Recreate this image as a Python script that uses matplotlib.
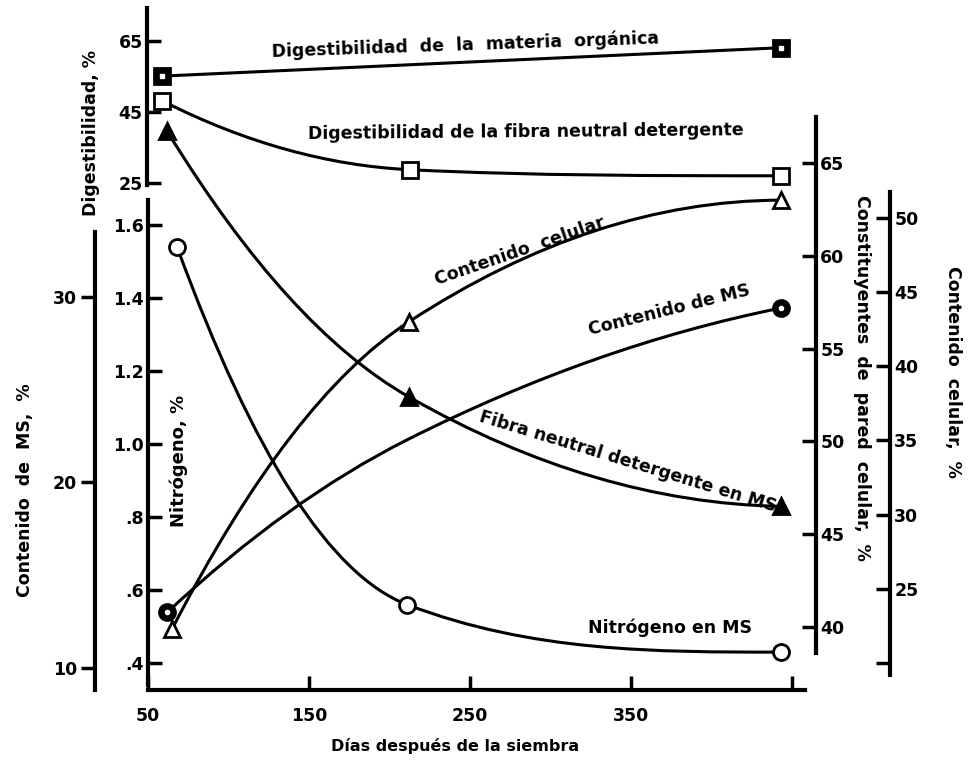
import numpy as np
import matplotlib
matplotlib.use('Agg')
import matplotlib.pyplot as plt
from matplotlib.path import Path
from matplotlib.patches import PathPatch

plt.rcParams['font.family'] = ['DejaVu Sans']
plt.rcParams['font.weight'] = 'bold'

# valores
dias_mo = [59, 443]
dig_mo = [55.1, 63.1]            # digestibilidad materia organica, %
dias_fnd = [59, 213, 443]
dig_fnd = [48.1, 28.7, 27.0]     # digestibilidad FND, %
dias_nit = [68, 211, 443]
nitrogeno = [1.54, 0.56, 0.43]   # nitrogeno en MS, %
dias_ms = [62, 211, 443]
cont_ms = [13.0, 22.3, 29.4]     # contenido de MS, %
dias_fibra = [62, 212, 443]
fibra_ms = [66.7, 52.4, 46.5]    # FND en MS, % (pared celular)
dias_cel = [65, 212, 443]
cont_cel = [22.3, 43.0, 51.2]    # contenido celular, %

x_ticks = [50, 150, 250, 350, 450]
x_labels = ['50', '150', '250', '350', '']

W, H = 970, 763
LW = 2.2


def box(top, bottom, left=148, right=805):
    return [left / W, 1 - bottom / H, (right - left) / W, (bottom - top) / H]


def curva(ax, x, y):
    # curva suave (bezier cubica) que pasa por los puntos
    x = np.asarray(x, float)
    y = np.asarray(y, float)
    h = np.diff(x)
    d = np.diff(y) / h
    n = len(x)
    m = np.empty(n)
    if n == 2:
        m[:] = d[0]
    else:
        for k in range(1, n - 1):
            if d[k - 1] * d[k] > 0:
                g = np.sqrt(d[k - 1] * d[k])
                lim = 3 * min(abs(d[k - 1]), abs(d[k]))
                m[k] = np.sign(d[k]) * min(g, lim)
            else:
                m[k] = 0.0
        # extremos: tramo parabolico
        m[0] = 2 * d[0] - m[1]
        m[-1] = 2 * d[-1] - m[-2]
        if m[-1] * d[-1] < 0:
            m[-1] = 0.0
        if m[0] * d[0] < 0:
            m[0] = 0.0
    verts = [(x[0], y[0])]
    codes = [Path.MOVETO]
    for k in range(n - 1):
        c = h[k] / 3
        verts += [(x[k] + c, y[k] + c * m[k]),
                  (x[k + 1] - c, y[k + 1] - c * m[k + 1]),
                  (x[k + 1], y[k + 1])]
        codes += [Path.CURVE4] * 3
    ax.add_patch(PathPatch(Path(verts, codes), fill=False, lw=LW,
                           color='black', capstyle='round', zorder=2))


fig = plt.figure(figsize=(9.7, 7.63), dpi=100)

# eje x
ax_x = fig.add_axes(box(8, 690))
ax_x.set_xlim(50, 458)
for s in ['left', 'right', 'top']:
    ax_x.spines[s].set_visible(False)
ax_x.spines['bottom'].set_linewidth(3)
ax_x.set_yticks([])
ax_x.set_xticks(x_ticks, x_labels)
ax_x.tick_params(axis='x', direction='in', length=10, width=2.5,
                 labelsize=12.5, pad=12)


def make_axis(top, bottom, ylim, side, offset, ticks, labels, direction):
    ax = fig.add_axes(box(top, bottom))
    ax.patch.set_visible(False)
    ax.set_xlim(50, 458)
    ax.set_ylim(*ylim)
    for s in ax.spines.values():
        s.set_visible(False)
    sp = ax.spines[side]
    sp.set_visible(True)
    sp.set_linewidth(3)
    sp.set_position(('outward', offset * 0.72))
    ax.set_xticks([])
    ax.yaxis.set_ticks_position(side)
    ax.set_yticks(ticks, labels)
    ax.tick_params(axis='y', direction=direction, length=10, width=2.5,
                   labelsize=12.5, pad=3)
    return ax


ax_dig = make_axis(8, 185, (24.4, 74.3), 'left', 1, [25, 45, 65],
                   ['25', '45', '65'], 'in')
ax_nit = make_axis(200, 685, (0.34, 1.668), 'left', 0,
                   [0.4, 0.6, 0.8, 1.0, 1.2, 1.4, 1.6],
                   ['.4', '.6', '.8', '1.0', '1.2', '1.4', '1.6'], 'in')
ax_ms = make_axis(232, 690, (8.81, 33.5), 'left', 53, [10, 20, 30],
                  ['10', '20', '30'], 'out')
ax_par = make_axis(117, 653, (38.6, 67.48), 'right', 11,
                   [40, 45, 50, 55, 60, 65],
                   ['40', '45', '50', '55', '60', '65'], 'in')
ax_cel = make_axis(192, 675, (19.19, 51.75), 'right', 85,
                   [20, 25, 30, 35, 40, 45, 50],
                   ['', '25', '30', '35', '40', '45', '50'], 'in')

mk = dict(markersize=11.5, markeredgewidth=2, color='black',
          linestyle='none', clip_on=False, zorder=3)

# digestibilidad materia organica
curva(ax_dig, dias_mo, dig_mo)
ax_dig.plot(dias_mo, dig_mo, marker='s', **mk)
ax_dig.plot(dias_mo, dig_mo, marker='s', markersize=3, color='white',
            linestyle='none', clip_on=False, zorder=4)

# digestibilidad FND
curva(ax_dig, dias_fnd, dig_fnd)
ax_dig.plot(dias_fnd, dig_fnd, marker='s', markerfacecolor='white', **mk)

# nitrogeno
curva(ax_nit, dias_nit, nitrogeno)
ax_nit.plot(dias_nit, nitrogeno, marker='o', markerfacecolor='white', **mk)

# contenido de MS (marcas solo en extremos)
curva(ax_ms, dias_ms, cont_ms)
ax_ms.plot([dias_ms[0], dias_ms[-1]], [cont_ms[0], cont_ms[-1]],
           marker='o', **mk)
ax_ms.plot([dias_ms[0], dias_ms[-1]], [cont_ms[0], cont_ms[-1]],
           marker='o', markersize=3, color='white', linestyle='none',
           clip_on=False, zorder=4)

# FND en MS
curva(ax_par, dias_fibra, fibra_ms)
ax_par.plot(dias_fibra, fibra_ms, marker='^', **mk)

# contenido celular
curva(ax_cel, dias_cel, cont_cel)
ax_cel.plot(dias_cel, cont_cel, marker='^', markerfacecolor='white', **mk)


def ftext(x, y, s, **kw):
    fig.text(x / W, 1 - y / H, s, ha='center', va='center',
             fontweight='bold', rotation_mode='anchor', **kw)


# titulos de ejes
ftext(455, 746, 'Días después de la siembra', fontsize=11.5)
ftext(91, 133, 'Digestibilidad, %', rotation=90, fontsize=12.5)
ftext(25, 490, 'Contenido  de  MS,  %', rotation=90, fontsize=12.5)
ftext(179, 461, 'Nitrógeno, %', rotation=90, fontsize=13)
ftext(862, 378, 'Constituyentes  de  pared  celular,  %', rotation=-90,
      fontsize=12.5)
ftext(953, 372, 'Contenido  celular,  %', rotation=-90, fontsize=12.5)

# rotulos de curvas
ftext(465, 45, 'Digestibilidad  de  la  materia  orgánica', rotation=2,
      fontsize=12.5)
ftext(526, 132, 'Digestibilidad de la fibra neutral detergente',
      rotation=0.5, fontsize=12.5)
ftext(520, 251, 'Contenido  celular', rotation=19, fontsize=12.5)
ftext(669, 310, 'Contenido de MS', rotation=14, fontsize=12.5)
ftext(628, 462, 'Fibra neutral detergente en MS', rotation=-17,
      fontsize=12.5)
ftext(670, 628, 'Nitrógeno en MS', rotation=0, fontsize=12.5)

fig.savefig('out.png', dpi=100)
